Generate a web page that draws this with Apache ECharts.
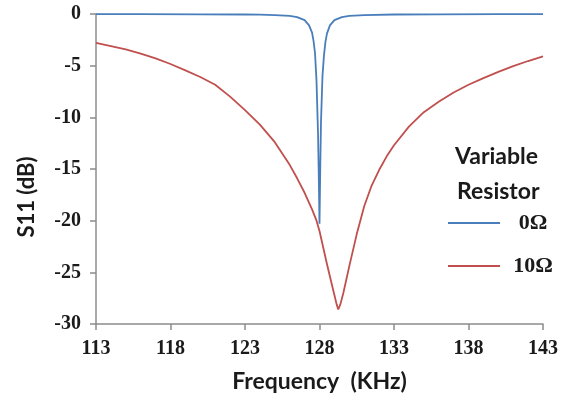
<!DOCTYPE html>
<html>
<head>
<meta charset="utf-8">
<script src="https://cdn.jsdelivr.net/npm/echarts@6/dist/echarts.min.js"></script>
<style>
html,body{margin:0;padding:0;background:#fff;}
#c{width:569px;height:401px;}
</style>
</head>
<body>
<div id="c"></div>
<script>
// Data
const blueFreq = [113, 116, 120, 123, 124, 125, 126, 126.5, 127, 127.3, 127.5, 127.6, 127.7, 127.8, 127.9, 127.95, 128.0, 128.05, 128.1, 128.2, 128.3, 128.4, 128.5, 128.7, 129.0, 129.5, 130, 131, 133, 136, 140, 143];
const blueS11 = [-0.02, -0.02, -0.03, -0.05, -0.06, -0.1, -0.18, -0.3, -0.6, -1.1, -1.8, -2.6, -3.8, -6.5, -11.5, -15.5, -20.3, -15.0, -10.5, -6.0, -4.0, -2.7, -1.9, -1.1, -0.6, -0.3, -0.18, -0.1, -0.05, -0.03, -0.02, -0.02];

const redFreq = [113, 114, 115, 116, 117, 118, 119, 120, 121, 122, 123, 124, 125, 126, 126.5, 127, 127.5, 127.8, 128, 128.5, 128.8, 129, 129.15, 129.26, 129.4, 129.6, 130, 130.5, 131, 131.5, 132, 132.5, 133, 134, 135, 136, 137, 138, 139, 140, 141, 142, 143];
const redS11 = [-2.8, -3.1, -3.43, -3.83, -4.3, -4.84, -5.45, -6.1, -6.85, -8.0, -9.3, -10.7, -12.4, -14.6, -15.9, -17.3, -18.9, -20.0, -21.0, -24.2, -26.0, -27.2, -28.1, -28.6, -28.1, -27.0, -24.4, -21.3, -18.6, -16.6, -15.1, -13.8, -12.7, -10.9, -9.5, -8.5, -7.6, -6.85, -6.2, -5.6, -5.05, -4.55, -4.1];

const seriesNames = ['0Ω', '10Ω'];
const xTicks = {min: 113, max: 143, step: 5};
const yTicks = {min: -30, max: 0, step: 5};

const zip = (a, b) => a.map((v, i) => [v, b[i]]);

const chart = echarts.init(document.getElementById('c'), null, {renderer: 'canvas'});
const serifBold = {fontFamily: 'Liberation Serif', fontWeight: 'bold', fontSize: 20, color: '#1a1a1a'};
const sansTitle = {fontFamily: 'Lato', fontWeight: 'bold', fontSize: 23, color: '#1a1a1a'};
chart.setOption({
  animation: false,
  backgroundColor: '#fff',
  grid: {left: 96, right: 26, top: 14, bottom: 77, containLabel: false},
  xAxis: {
    type: 'value', min: xTicks.min, max: xTicks.max, interval: xTicks.step,
    name: 'Frequency  (KHz)', nameLocation: 'middle', nameGap: 46,
    nameTextStyle: sansTitle,
    axisLine: {show: true, onZero: false, lineStyle: {color: '#8c8c8c', width: 1.5}},
    axisTick: {show: true, inside: false, length: 6, lineStyle: {color: '#8c8c8c', width: 1.5}},
    axisLabel: Object.assign({margin: 15}, serifBold),
    splitLine: {show: false}
  },
  yAxis: {
    type: 'value', min: yTicks.min, max: yTicks.max, interval: yTicks.step,
    name: 'S11 (dB)', nameLocation: 'middle', nameGap: 58, nameRotate: 90,
    nameTextStyle: Object.assign({}, sansTitle, {fontSize: 22, padding: [0, 56, 0, 0]}),
    axisLine: {show: true, onZero: false, lineStyle: {color: '#8c8c8c', width: 1.5}},
    axisTick: {show: true, inside: false, length: 6, lineStyle: {color: '#8c8c8c', width: 1.5}},
    axisLabel: Object.assign({margin: 15, formatter: v => String(v).replace('−', '-')}, serifBold),
    splitLine: {show: false}
  },
  legend: {
    orient: 'vertical', left: 443, top: 207, itemGap: 21,
    itemWidth: 52, itemHeight: 2, icon: 'rect',
    data: seriesNames,
    formatter: '{a|{name}}',
    textStyle: {rich: {a: {fontFamily: 'Liberation Serif', fontWeight: 'bold', fontSize: 22, color: '#1a1a1a', width: 56, align: 'center'}}}
  },
  graphic: [
    {type: 'text', left: 455, top: 145, style: {text: 'Variable', fontFamily: 'Lato', fontWeight: 'bold', fontSize: 23, fill: '#1a1a1a'}},
    {type: 'text', left: 457, top: 180, style: {text: 'Resistor', fontFamily: 'Lato', fontWeight: 'bold', fontSize: 23, fill: '#1a1a1a'}}
  ],
  series: [
    {name: seriesNames[0], type: 'line', data: zip(blueFreq, blueS11), showSymbol: false, smooth: false,
     lineStyle: {color: '#4a7ebb', width: 1.8}, itemStyle: {color: '#4a7ebb'}},
    {name: seriesNames[1], type: 'line', data: zip(redFreq, redS11), showSymbol: false, smooth: false,
     lineStyle: {color: '#c0504d', width: 1.8}, itemStyle: {color: '#c0504d'}}
  ]
});
</script>
</body>
</html>
